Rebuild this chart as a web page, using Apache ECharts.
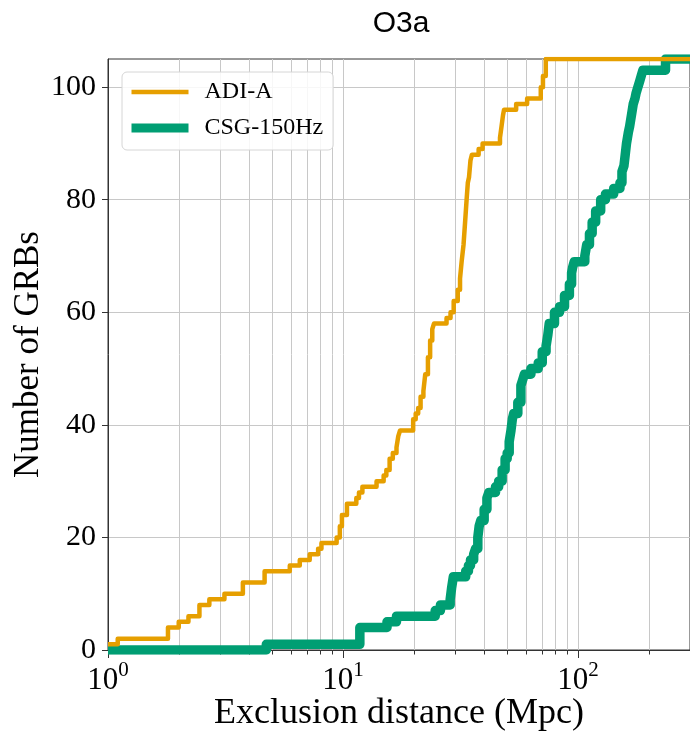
<!DOCTYPE html>
<html>
<head>
<meta charset="utf-8">
<script src="https://cdn.jsdelivr.net/npm/echarts@6/dist/echarts.min.js"></script>
<style>
  html, body { margin: 0; padding: 0; background: #fff; }
  #chart { width: 690px; height: 733px; }
</style>
</head>
<body>
<div id="chart"></div>
<script>
// Cumulative number of GRBs excluded out to a given distance (Mpc).
// Each pair is [distance, count reached at that distance].
const adiA = [
  [1, 1], [1.1, 2], [1.8, 4], [2.0, 5], [2.2, 6], [2.45, 8], [2.7, 9], [3.13, 10],
  [3.75, 12], [4.64, 14], [5.94, 15], [6.55, 16], [7.22, 17], [7.84, 18], [8.1, 19],
  [9.4, 20], [9.7, 22], [9.9, 24], [10.4, 26], [11.4, 27], [11.7, 28], [12.1, 29],
  [13.9, 30], [14.9, 31], [15.3, 32], [15.8, 34], [16.3, 35], [16.9, 36], [17.2, 38],
  [17.5, 39], [19.9, 41], [20.4, 42], [20.9, 43], [21.4, 45], [22.0, 46], [22.4, 49],
  [23.0, 52], [23.5, 55], [24.0, 57], [24.4, 58], [27.6, 59], [28.7, 60], [29.6, 62],
  [30.8, 64], [31.5, 66], [32.0, 69], [32.6, 72], [33.1, 76], [33.6, 80], [34.0, 83],
  [34.4, 84], [34.9, 87], [35.4, 88], [37.8, 89], [39.3, 90], [46.6, 91], [47.3, 93],
  [48.0, 95], [48.5, 96], [54.6, 97], [60.8, 98], [69.5, 100], [71, 102], [73, 105],
  [300, 105]
];
const csg150 = [
  [1, 0], [4.72, 1], [11.8, 4], [15.4, 5], [16.9, 6], [24.7, 7], [26.0, 8], [28.6, 9],
  [29.0, 11], [29.5, 13], [33.3, 14], [34.2, 15], [34.9, 16], [36.0, 17], [36.7, 18],
  [37.5, 20], [38.0, 22], [38.6, 23], [39.9, 25], [41.0, 27], [41.8, 28], [44.6, 29],
  [46, 30], [47.6, 32], [49, 34], [50, 35], [51, 37], [51.9, 39], [52.6, 41], [53.3, 42],
  [55.5, 44], [57.2, 47], [58.2, 48], [59.2, 49], [63.1, 50], [67.8, 51], [70.5, 53],
  [73.2, 54], [74.5, 56], [75.5, 58], [79.5, 60], [83.5, 61], [87.7, 63], [92, 65],
  [94, 67], [95, 68], [96.5, 69], [107, 70], [109, 72], [112, 74], [115, 76], [119, 78],
  [125, 80], [131, 81], [142, 82], [151, 83], [154, 85], [157, 86], [159, 88], [161, 90],
  [164, 92], [166, 93], [169, 95], [172, 97], [175, 98], [177, 99], [180, 100], [183, 101],
  [186, 102], [189, 103], [236, 105], [300, 105]
];
const seriesNames = ['ADI-A', 'CSG-150Hz'];
const xMajorTicks = [1, 10, 100];
const xMinorTicks = [2, 3, 4, 5, 6, 7, 8, 9, 20, 30, 40, 50, 60, 70, 80, 90, 200, 300];
const yTicks = [0, 20, 40, 60, 80, 100];

const X_MIN = 1, X_MAX = 300, Y_MIN = 0, Y_MAX = 105;
const SERIF = '"Liberation Serif", "DejaVu Serif", serif';
const GRID_COLOR = '#c8c8c8';
const AXIS_COLOR = '#333333';

const chart = echarts.init(document.getElementById('chart'), null, { renderer: 'canvas' });

chart.setOption({
  animation: false,
  backgroundColor: '#ffffff',
  title: {
    text: 'O3a',
    left: 396,
    top: 4,
    textAlign: 'center',
    textStyle: { fontFamily: '"Liberation Sans", Arial, sans-serif', fontSize: 30, fontWeight: 'normal', color: '#000' }
  },
  grid: {
    left: 108, right: 0, top: 59, bottom: 83,
    outerBoundsMode: 'none',
    containLabel: false,
    show: true, borderColor: AXIS_COLOR, borderWidth: 1, backgroundColor: 'transparent'
  },
  legend: {
    orient: 'vertical',
    left: 122, top: 72,
    padding: [8, 10, 10, 5],
    itemGap: 12,
    itemWidth: 57,
    itemHeight: 12,
    backgroundColor: 'rgba(255,255,255,0.85)',
    borderColor: '#d6d6d6',
    borderWidth: 1,
    borderRadius: 5,
    itemStyle: { opacity: 0 },
    data: [
      { name: seriesNames[0], lineStyle: { width: 4.5 }, itemStyle: { opacity: 0 } },
      { name: seriesNames[1], lineStyle: { width: 9 }, itemStyle: { opacity: 0 } }
    ],
    formatter: name => '{t|' + name + '}',
    textStyle: {
      rich: { t: { fontFamily: SERIF, fontSize: 24, color: '#000', padding: [0, 0, 0, 11], lineHeight: 24 } }
    }
  },
  xAxis: {
    type: 'log',
    logBase: 10,
    min: X_MIN,
    max: X_MAX,
    name: 'Exclusion distance (Mpc)',
    nameLocation: 'middle',
    nameMoveOverlap: false,
    nameGap: 46,
    nameTextStyle: { fontFamily: SERIF, fontSize: 36, color: '#000', verticalAlign: 'top' },
    axisLine: { show: true, lineStyle: { color: AXIS_COLOR, width: 1 } },
    axisTick: { show: true, inside: false, length: 8, customValues: xMajorTicks, lineStyle: { color: AXIS_COLOR } },
    axisLabel: {
      margin: 10,
      customValues: xMajorTicks,
      formatter: v => '{b|10}{s|' + Math.round(Math.log10(v)) + '}',
      rich: {
        b: { fontFamily: SERIF, fontSize: 31, color: '#000', lineHeight: 36, verticalAlign: 'bottom' },
        s: { fontFamily: SERIF, fontSize: 21, color: '#000', lineHeight: 22, verticalAlign: 'top' }
      }
    },
    splitLine: { show: true, lineStyle: { color: GRID_COLOR, width: 1 } }
  },
  yAxis: {
    type: 'value',
    min: Y_MIN,
    max: Y_MAX,
    interval: 20,
    name: 'Number of GRBs',
    nameLocation: 'middle',
    nameMoveOverlap: false,
    nameRotate: 90,
    nameGap: 62,
    nameTextStyle: { fontFamily: SERIF, fontSize: 35, color: '#000' },
    axisLine: { show: true, lineStyle: { color: AXIS_COLOR, width: 1 } },
    axisTick: { show: true, inside: false, length: 6, customValues: yTicks, lineStyle: { color: AXIS_COLOR } },
    axisLabel: {
      margin: 12,
      customValues: yTicks,
      fontFamily: SERIF, fontSize: 30, color: '#000'
    },
    splitLine: { show: true, lineStyle: { color: GRID_COLOR, width: 1 } }
  },
  series: [
    {
      // minor log-decade grid lines with their short outward ticks
      type: 'custom',
      name: 'minor',
      silent: true,
      clip: false,
      z: 1,
      data: xMinorTicks.map(v => [v, 0]),
      encode: { x: 0, y: 1 },
      renderItem: (params, api) => {
        const v = api.value(0);
        const bottom = api.coord([v, Y_MIN]);
        const top = api.coord([v, Y_MAX]);
        const x = Math.round(bottom[0]) + 0.5;
        return {
          type: 'group',
          children: [
            { type: 'line', shape: { x1: x, y1: top[1], x2: x, y2: bottom[1] }, style: { stroke: GRID_COLOR, lineWidth: 1 } },
            { type: 'line', shape: { x1: x, y1: bottom[1], x2: x, y2: bottom[1] + 4.5 }, style: { stroke: AXIS_COLOR, lineWidth: 1 } }
          ]
        };
      }
    },
    {
      type: 'line',
      name: seriesNames[0],
      data: adiA,
      step: 'end',
      symbol: 'none',
      clip: true,
      z: 4,
      color: '#E69F00',
      lineStyle: { color: '#E69F00', width: 4.5, join: 'round' }
    },
    {
      type: 'line',
      name: seriesNames[1],
      data: csg150,
      step: 'end',
      symbol: 'none',
      clip: true,
      z: 3,
      color: '#009E73',
      lineStyle: { color: '#009E73', width: 9.5, join: 'round' }
    }
  ]
});
</script>
</body>
</html>
